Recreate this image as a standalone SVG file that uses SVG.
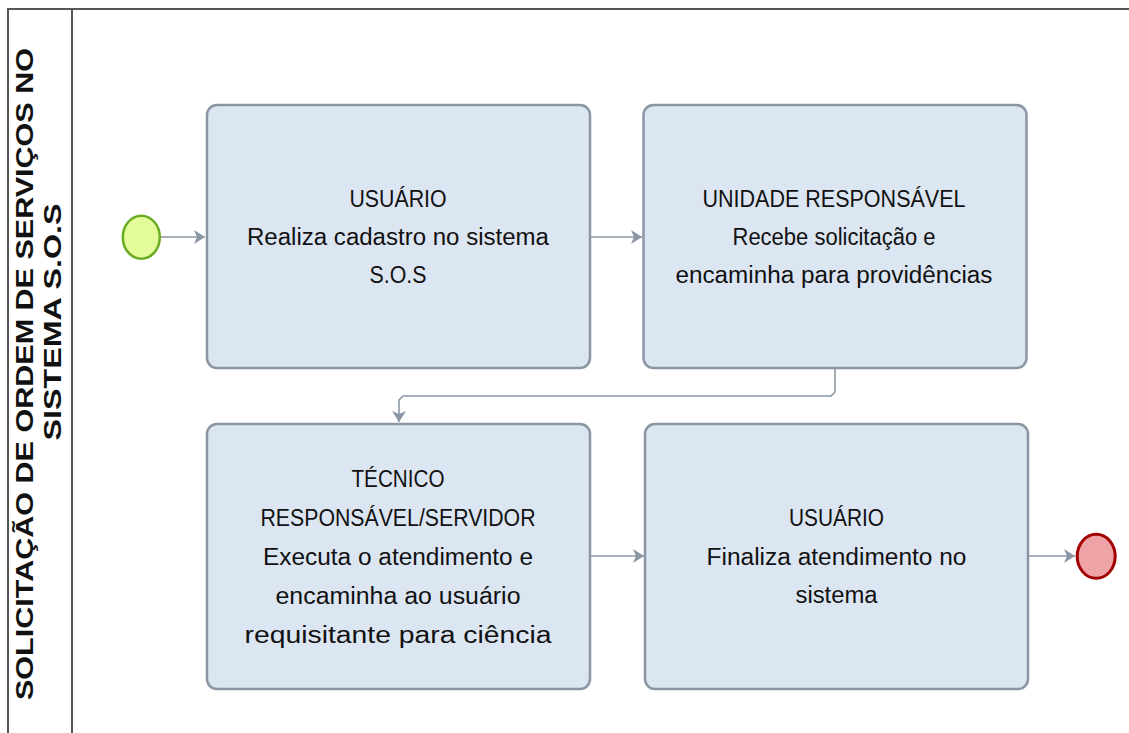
<svg xmlns="http://www.w3.org/2000/svg" width="1129" height="733" viewBox="0 0 1129 733">
<style>
.frame{stroke:#555;stroke-width:2;fill:none}
.task{fill:#dce6f2;stroke:#8a96a4;stroke-width:2.5}
.lbl{font-family:"Liberation Sans",Arial,sans-serif;font-size:23px;fill:#111;text-anchor:middle}
.lane{font-family:"Liberation Sans",Arial,sans-serif;font-size:24px;font-weight:bold;fill:#111;text-anchor:middle}
.conn{stroke:#8a96a4;stroke-width:1.6;fill:none}
</style>
<defs>
<marker id="arr" markerUnits="userSpaceOnUse" markerWidth="12" markerHeight="14" refX="11" refY="7" orient="auto">
<path d="M11,7 L0,0 L3,7 L0,14 Z" fill="#8a96a4"/>
</marker>
</defs>
<g id="lane">
<path class="frame" d="M8,733 V9 H1129 M72,9 V733"/>
<text class="lane" transform="translate(33,374) rotate(-90)" textLength="652" lengthAdjust="spacingAndGlyphs">SOLICITAÇÃO DE ORDEM DE SERVIÇOS NO</text>
<text class="lane" transform="translate(61,322) rotate(-90)" textLength="237" lengthAdjust="spacingAndGlyphs">SISTEMA S.O.S</text>
</g>
<g id="connectors">
<path class="conn" d="M161,237 H205" marker-end="url(#arr)"/>
<path class="conn" d="M590,237 H642" marker-end="url(#arr)"/>
<path class="conn" d="M835,368 V392 L831,396 H403 L399,400 V422" marker-end="url(#arr)"/>
<path class="conn" d="M590,556 H644" marker-end="url(#arr)"/>
<path class="conn" d="M1028,556 H1075" marker-end="url(#arr)"/>
</g>
<g id="start">
<ellipse cx="141.3" cy="237.2" rx="18.5" ry="21.5" fill="#e4fb9a" stroke="#6aac22" stroke-width="2.5"/>
</g>
<g id="task1">
<rect class="task" x="207" y="105" width="383" height="263" rx="10"/>
<text class="lbl" x="398" y="207" textLength="97" lengthAdjust="spacingAndGlyphs">USUÁRIO</text>
<text class="lbl" x="398" y="245" textLength="302" lengthAdjust="spacingAndGlyphs">Realiza cadastro no sistema</text>
<text class="lbl" x="398" y="283" textLength="57" lengthAdjust="spacingAndGlyphs">S.O.S</text>
</g>
<g id="task2">
<rect class="task" x="643.5" y="105" width="383" height="263" rx="10"/>
<text class="lbl" x="834" y="207" textLength="263" lengthAdjust="spacingAndGlyphs">UNIDADE RESPONSÁVEL</text>
<text class="lbl" x="834" y="245" textLength="203" lengthAdjust="spacingAndGlyphs">Recebe solicitação e</text>
<text class="lbl" x="834" y="283" textLength="317" lengthAdjust="spacingAndGlyphs">encaminha para providências</text>
</g>
<g id="task3">
<rect class="task" x="207" y="424" width="383" height="265" rx="10"/>
<text class="lbl" x="398" y="487" textLength="93" lengthAdjust="spacingAndGlyphs">TÉCNICO</text>
<text class="lbl" x="398" y="526" textLength="275" lengthAdjust="spacingAndGlyphs">RESPONSÁVEL/SERVIDOR</text>
<text class="lbl" x="398" y="565" textLength="270" lengthAdjust="spacingAndGlyphs">Executa o atendimento e</text>
<text class="lbl" x="398" y="604" textLength="245" lengthAdjust="spacingAndGlyphs">encaminha ao usuário</text>
<text class="lbl" x="398" y="643" textLength="307" lengthAdjust="spacingAndGlyphs">requisitante para ciência</text>
</g>
<g id="task4">
<rect class="task" x="645" y="424" width="383" height="265" rx="10"/>
<text class="lbl" x="836.5" y="526" textLength="95" lengthAdjust="spacingAndGlyphs">USUÁRIO</text>
<text class="lbl" x="836.5" y="565" textLength="260" lengthAdjust="spacingAndGlyphs">Finaliza atendimento no</text>
<text class="lbl" x="836.5" y="603" textLength="82" lengthAdjust="spacingAndGlyphs">sistema</text>
</g>
<g id="end">
<ellipse cx="1096.2" cy="556.3" rx="19" ry="22" fill="#eea4a6" stroke="#a30000" stroke-width="3"/>
</g>
</svg>
